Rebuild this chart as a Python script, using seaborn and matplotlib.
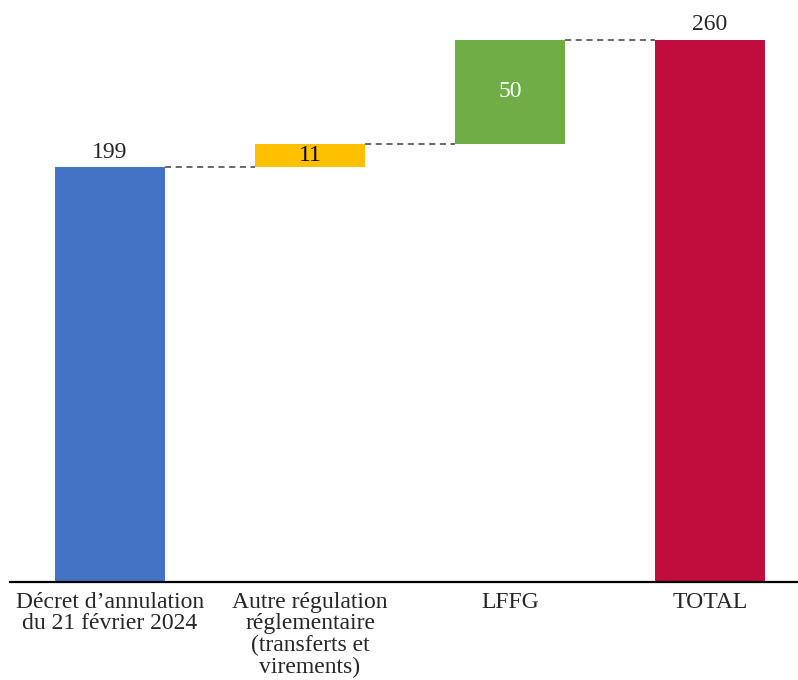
import matplotlib
matplotlib.use("Agg")
import matplotlib.pyplot as plt
import numpy as np
import pandas as pd
import seaborn as sns

# waterfall data
categories = ["Décret d\u2019annulation\ndu 21 février 2024",
              "Autre régulation\nréglementaire\n(transferts et\nvirements)",
              "LFFG", "TOTAL"]
values = [199, 11, 50, 260]
is_total = [False, False, False, True]
colors = ["#4472C4", "#FFC000", "#70AD47", "#C00D3D"]

# cumulative bases and tops
bases = []
run = 0
for v, t in zip(values, is_total):
    if t:
        bases.append(0)
    else:
        bases.append(run)
        run += v
tops = [b + v for b, v in zip(bases, values)]

df = pd.DataFrame({"cat": categories, "top": tops, "base": bases})

sns.set_style("white")
plt.rcParams["font.family"] = ["Liberation Serif", "DejaVu Serif"]

fig = plt.figure(figsize=(7.98, 6.8), dpi=100)
ax = fig.add_axes([10 / 798, 98 / 680, 788 / 798, 582 / 680])

width = 0.55
sns.barplot(data=df, x="cat", y="top", hue="cat", palette=colors,
            legend=False, width=width, linewidth=0, saturation=1, ax=ax)
# hide the lower part of the floating bars
sns.barplot(data=df, x="cat", y="base", color="white",
            width=width, linewidth=0, saturation=1, ax=ax)

# connector lines
for i in range(len(values) - 1):
    ax.plot([i + width / 2, i + 1 - width / 2], [tops[i], tops[i]],
            color="#404040", linestyle=(0, (4, 3)), linewidth=1.1)

# value labels
txt = "#262626"
fs = 17
ax.text(0, tops[0] + 2, str(values[0]), ha="center", va="bottom", fontsize=fs, color=txt)
ax.text(1, bases[1] + values[1] / 2, str(values[1]), ha="center", va="center", fontsize=fs, color="black")
ax.text(2, bases[2] + values[2] / 2, str(values[2]), ha="center", va="center", fontsize=fs, color="white")
ax.text(3, tops[3] + 2, str(values[3]), ha="center", va="bottom", fontsize=fs, color=txt)

ax.set_ylim(0, 279)
ax.set_xlim(-0.5, 3.44)
ax.set_xlabel("")
ax.set_ylabel("")
ax.set_yticks([])
ax.tick_params(axis="x", length=0, pad=7, labelsize=fs, labelcolor=txt)
for lab in ax.get_xticklabels():
    lab.set_linespacing(1.04)
    lab.set_verticalalignment("top")
for s in ["top", "right", "left"]:
    ax.spines[s].set_visible(False)
ax.spines["bottom"].set_color("black")
ax.spines["bottom"].set_linewidth(1.6)

fig.savefig("out.png", dpi=100)
